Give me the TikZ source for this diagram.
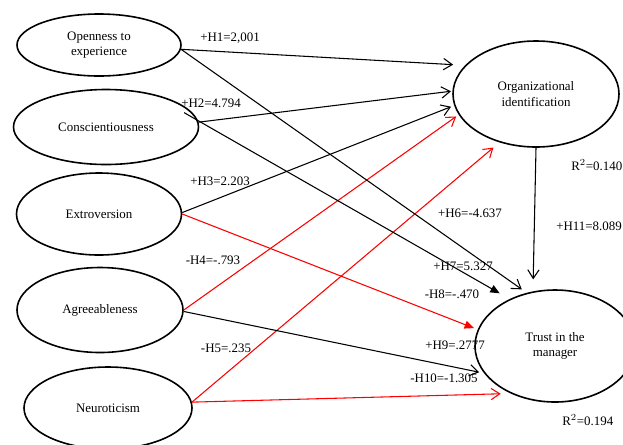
\documentclass[tikz,border=0pt]{standalone}
\usepackage{fontspec}
\setmainfont{Liberation Serif}
\usetikzlibrary{shapes.geometric,arrows.meta}
\begin{document}
\begin{tikzpicture}[x=0.75pt,y=-0.75pt,
  latent/.style={ellipse,draw,line width=1.2pt,inner sep=0pt,align=center,
    font=\fontsize{9.7}{11.5}\selectfont},
  lbl/.style={font=\fontsize{9.7}{11.5}\selectfont,inner sep=0pt},
  hyp/.style={line width=0.8pt,-{Straight Barb[length=6.5pt,width=8.5pt]}},
  hypfill/.style={line width=0.8pt,-{Triangle[length=7pt,width=6pt]}},
  neg/.style={red}]
\useasboundingbox (0,0) rectangle (623,444);
\clip (0,0) rectangle (623,444);

% latent variables
\node[latent,minimum width=123pt,minimum height=46.5pt] (open) at (99,45) {Openness to\\experience};
\node[latent,minimum width=138.75pt,minimum height=56.25pt] (cons) at (106,127) {Conscientiousness};
\node[latent,minimum width=123.75pt,minimum height=61.5pt] (extro) at (99,214) {Extroversion};
\node[latent,minimum width=124.5pt,minimum height=63.75pt] (agree) at (100,310) {Agreeableness};
\node[latent,minimum width=126pt,minimum height=61.5pt] (neuro) at (108,408) {Neuroticism};
\node[latent,minimum width=124.5pt,minimum height=79.5pt] (oi) at (536,94) {Organizational\\identification};
\node[latent,minimum width=120pt,minimum height=84pt] (trust) at (555,346) {Trust in the\\manager};

% paths
\draw[hyp,shorten >=9pt] (open.-3) -- (oi.158);
\draw[hyp,shorten >=1pt] (cons.3) -- (oi.178);
\draw[hyp,shorten >=2.5pt] (extro.1) -- (oi.-172);
\draw[hyp,neg,shorten >=2.25pt] (agree.0) -- (oi.-165);
\draw[hyp,neg,shorten >=6pt] (neuro.4) -- (oi.-127);

\draw[hyp,shorten >=4.5pt] (open.-3) -- (trust.118);
\draw[hypfill,shorten >=8.6pt,shorten <=-12pt] (cons.4) -- (trust.134);
\draw[hypfill,neg,shorten >=3pt] (extro.0) -- (trust.168);
\draw[hyp,shorten >=3.75pt] (agree.-1) -- (trust.-159);
\draw[hyp,neg,shorten >=7.5pt] (neuro.4) -- (trust.-133);

\draw[hyp,shorten >=9pt] (oi.-90) -- (trust.112);

% labels
\node[lbl] (l1) at (230,38) {+H1=2,001};
\node[lbl] (l2) at (211,103) {+H2=4.794};
\node[lbl] (l3) at (220,181) {+H3=2.203};
\node[lbl] (l4) at (213,260) {-H4=-.793};
\node[lbl] (l5) at (226,348) {-H5=.235};
\node[lbl] (l6) at (470,213) {+H6=-4.637};
\node[lbl] (l7) at (463,266) {+H7=5.327};
\node[lbl] (l8) at (452,294) {-H8=-.470};
\node[lbl] (l9) at (455,345) {+H9=.2777};
\node[lbl] (l10) at (444,378) {-H10=-1.305};
\node[lbl,anchor=west] (l11) at (556,226) {+H11=8.089};
\node[lbl,anchor=west] (r1) at (571,165) {R$^{2}$=0.140};
\node[lbl,anchor=west] (r2) at (562,420) {R$^{2}$=0.194};
\end{tikzpicture}
\end{document}
